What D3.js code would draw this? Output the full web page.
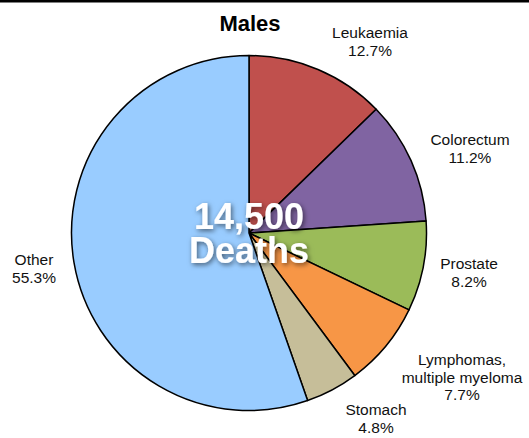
<!DOCTYPE html>
<html>
<head>
<meta charset="utf-8">
<script src="https://cdn.jsdelivr.net/npm/d3@7"></script>
<style>
  html, body { margin: 0; padding: 0; background: #fff; }
  svg { display: block; font-family: "Liberation Sans", Arial, Helvetica, sans-serif; }
</style>
</head>
<body>
<svg id="chart" width="529" height="438"></svg>
<script>
const title = "Males";
const categories = ["Leukaemia", "Colorectum", "Prostate", "Lymphomas, multiple myeloma", "Stomach", "Other"];
const values = [12.7, 11.2, 8.2, 7.7, 4.8, 55.3];
const labelLines = [["Leukaemia"], ["Colorectum"], ["Prostate"], ["Lymphomas,", "multiple myeloma"], ["Stomach"], ["Other"]];
const colors = ["#C0504D", "#8064A2", "#9BBB59", "#F79646", "#C6BE99", "#99CCFF"];
const centerText = ["14,500", "Deaths"];

const svg = d3.select("#chart");
const W = 529, H = 438;
const cx = 249, cy = 233, R = 177.5;

// layout: label anchor (center x, first baseline y) for each slice
const labelAnchor = [[370, 38], [470, 145], [469, 269], [462, 365], [376, 415], [34, 265]];

svg.append("rect").attr("x", 0).attr("y", 0).attr("width", W).attr("height", 2.5).attr("fill", "#000");

const defs = svg.append("defs");
const f = defs.append("filter").attr("id", "shadow").attr("x", "-20%").attr("y", "-30%").attr("width", "140%").attr("height", "160%");
f.append("feDropShadow").attr("dx", 1.5).attr("dy", 2).attr("stdDeviation", 2.5).attr("flood-color", "#000").attr("flood-opacity", 0.55);

const pie = d3.pie().sort(null).value(d => d);
const arc = d3.arc().innerRadius(0).outerRadius(R);
const arcs = pie(values);

const g = svg.append("g").attr("transform", `translate(${cx},${cy})`);
g.selectAll("path").data(arcs).join("path")
  .attr("d", arc)
  .attr("fill", (d, i) => colors[i])
  .attr("stroke", "#000")
  .attr("stroke-width", 1.5)
  .attr("stroke-linejoin", "round");

svg.append("text").attr("x", 250).attr("y", 31).attr("text-anchor", "middle")
  .attr("font-size", 22).attr("font-weight", "bold").attr("fill", "#000").text(title);

const lineH = 17.5;
arcs.forEach((d, i) => {
  const [lx, ly] = labelAnchor[i];
  const lines = labelLines[i].concat([values[i].toFixed(1) + "%"]);
  const t = svg.append("text").attr("text-anchor", "middle").attr("font-size", 15.5).attr("fill", "#111");
  lines.forEach((s, k) => {
    t.append("tspan").attr("x", lx).attr("y", ly + k * lineH).text(s);
  });
});

const ct = svg.append("text").attr("text-anchor", "middle").attr("font-size", 36)
  .attr("font-weight", "bold").attr("fill", "#fff").attr("filter", "url(#shadow)");
centerText.forEach((s, k) => {
  ct.append("tspan").attr("x", 249).attr("y", 229 + k * 34).text(s);
});
</script>
</body>
</html>
